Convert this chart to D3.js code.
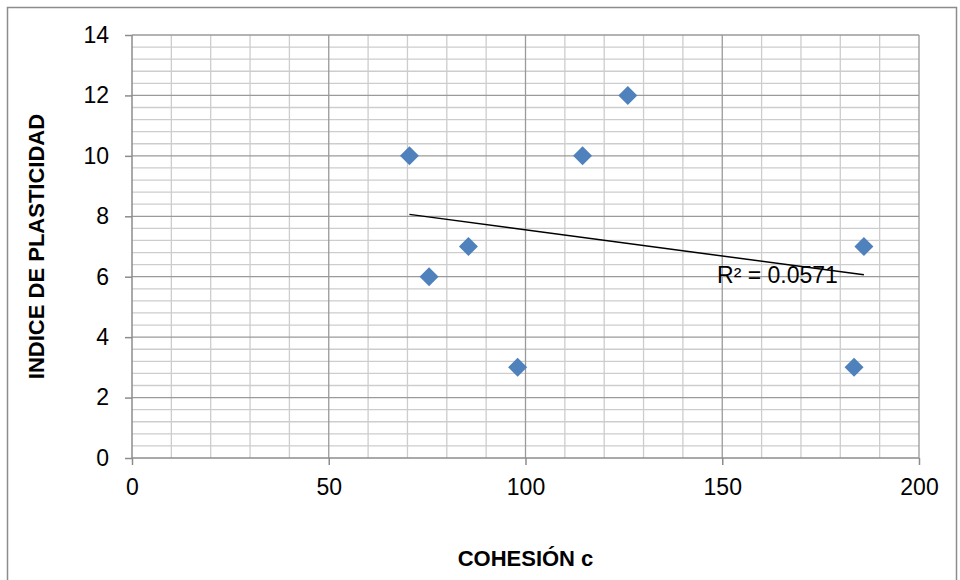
<!DOCTYPE html>
<html>
<head>
<meta charset="utf-8">
<script src="https://cdn.jsdelivr.net/npm/d3@7"></script>
<style>
  html, body { margin: 0; padding: 0; background: #ffffff; }
  svg { display: block; }
  text { font-family: "Liberation Sans", Arial, sans-serif; fill: #000; }
</style>
</head>
<body>
<svg id="chart" width="960" height="580"></svg>
<script>
// ---- Data ----
const cohesion = [70.5, 75.5, 85.5, 98, 114.5, 126, 183.5, 186];
const plasticity = [10, 6, 7, 3, 10, 12, 3, 7];
const xTicks = [0, 50, 100, 150, 200];
const yTicks = [0, 2, 4, 6, 8, 10, 12, 14];
const xTitle = "COHESIÓN c";
const yTitle = "INDICE DE PLASTICIDAD";
const r2Label = "R² = 0.0571";

// ---- Layout ----
const svg = d3.select("#chart");
const pL = 132, pR = 919, pT = 35, pB = 458;
const x = d3.scaleLinear().domain([0, 200]).range([pL, pR]);
const y = d3.scaleLinear().domain([0, 14]).range([pB, pT]);

// outer chart border
svg.append("rect")
  .attr("x", 7.5).attr("y", 7.5)
  .attr("width", 949).attr("height", 620)
  .attr("fill", "none").attr("stroke", "#8c8c8c").attr("stroke-width", 1.5);

const g = svg.append("g");

// minor gridlines
const yMinor = d3.range(0, 14.001, 0.4).map(v => +v.toFixed(2));
const xMinor = d3.range(0, 200.001, 10);
g.append("g").selectAll("line").data(yMinor.filter(v => Math.abs(v / 2 - Math.round(v / 2)) > 1e-6))
  .join("line")
  .attr("x1", pL).attr("x2", pR)
  .attr("y1", d => y(d)).attr("y2", d => y(d))
  .attr("stroke", "#cdcdcd").attr("stroke-width", 1.3);
g.append("g").selectAll("line").data(xMinor.filter(v => v % 50 !== 0))
  .join("line")
  .attr("y1", pT).attr("y2", pB)
  .attr("x1", d => x(d)).attr("x2", d => x(d))
  .attr("stroke", "#cdcdcd").attr("stroke-width", 1.3);

// major gridlines
g.append("g").selectAll("line").data(yTicks.slice(1))
  .join("line")
  .attr("x1", pL).attr("x2", pR)
  .attr("y1", d => y(d)).attr("y2", d => y(d))
  .attr("stroke", "#9a9a9a").attr("stroke-width", 1.3);
g.append("g").selectAll("line").data(xTicks.slice(1))
  .join("line")
  .attr("y1", pT).attr("y2", pB)
  .attr("x1", d => x(d)).attr("x2", d => x(d))
  .attr("stroke", "#9a9a9a").attr("stroke-width", 1.3);

// axes
const yAxis = d3.axisLeft(y).tickValues(yTicks).tickSize(7).tickPadding(16).tickFormat(d3.format("d"));
const xAxis = d3.axisBottom(x).tickValues(xTicks).tickSize(7).tickPadding(14).tickFormat(d3.format("d"));

const gy = svg.append("g").attr("transform", `translate(${pL},0)`).call(yAxis);
const gx = svg.append("g").attr("transform", `translate(0,${pB})`).call(xAxis);
[gx, gy].forEach(ax => {
  ax.select(".domain").attr("stroke", "#8c8c8c").attr("stroke-width", 1.5);
  ax.selectAll(".tick line").attr("stroke", "#8c8c8c").attr("stroke-width", 1.5);
  ax.selectAll(".tick text").attr("font-size", 23).attr("font-family", "Liberation Sans, Arial, sans-serif").attr("fill", "#000");
});
gy.select(".domain").attr("d", `M0,${pB}V${pT}`);
gx.select(".domain").attr("d", `M${pL},0H${pR}`);

// trendline (least squares)
const n = cohesion.length;
const mx = d3.mean(cohesion), my = d3.mean(plasticity);
let sxy = 0, sxx = 0;
for (let i = 0; i < n; i++) { sxy += (cohesion[i] - mx) * (plasticity[i] - my); sxx += (cohesion[i] - mx) ** 2; }
const slope = sxy / sxx, icpt = my - slope * mx;
const x0 = d3.min(cohesion), x1 = d3.max(cohesion);
svg.append("line")
  .attr("x1", x(x0)).attr("y1", y(icpt + slope * x0))
  .attr("x2", x(x1)).attr("y2", y(icpt + slope * x1))
  .attr("stroke", "#000").attr("stroke-width", 1.5);

// markers
const pts = cohesion.map((c, i) => ({ c, p: plasticity[i] }));
svg.append("g").selectAll("path").data(pts).join("path")
  .attr("transform", d => `translate(${x(d.c)},${y(d.p)})`)
  .attr("d", "M0,-9.5L9.5,0L0,9.5L-9.5,0Z")
  .attr("fill", "#4f81bd");

// R² label
svg.append("text")
  .attr("x", x(x1) - 26).attr("y", y(icpt + slope * x1) + 8)
  .attr("text-anchor", "end")
  .attr("font-size", 23)
  .text(r2Label);

// axis titles
svg.append("text")
  .attr("x", (pL + pR) / 2).attr("y", 566)
  .attr("text-anchor", "middle").attr("font-weight", "bold").attr("font-size", 22)
  .text(xTitle);
svg.append("text")
  .attr("transform", `translate(44,${(pT + pB) / 2}) rotate(-90)`)
  .attr("text-anchor", "middle").attr("font-weight", "bold").attr("font-size", 22)
  .text(yTitle);
</script>
</body>
</html>
